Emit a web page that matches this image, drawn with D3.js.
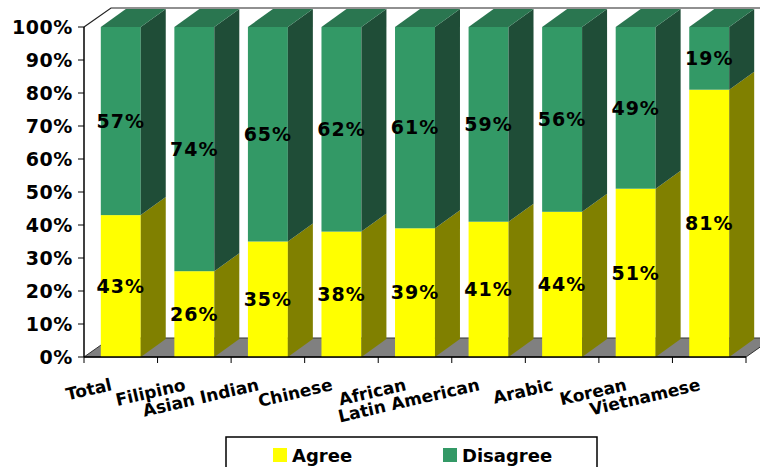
<!DOCTYPE html>
<html>
<head>
<meta charset="utf-8">
<script src="https://cdn.jsdelivr.net/npm/d3@7"></script>
<style>
  body { margin: 0; background: #fff; }
  svg { display: block; font-family: "DejaVu Sans", Verdana, sans-serif; font-weight: bold; }
</style>
</head>
<body>
<svg id="chart" width="760" height="467"></svg>
<script>
// data
const categories = ["Total", "Filipino", "Asian Indian", "Chinese", "African",
  "Latin American", "Arabic", "Korean", "Vietnamese"];
const agree = [43, 26, 35, 38, 39, 41, 44, 51, 81];
const disagree = [57, 74, 65, 62, 61, 59, 56, 49, 19];
const yTicks = [0, 10, 20, 30, 40, 50, 60, 70, 80, 90, 100];

const series = [
  { name: "Agree", values: agree, front: "#ffff00", side: "#808000", top: "#cccc00" },
  { name: "Disagree", values: disagree, front: "#339966", side: "#1f4d37", top: "#2a7650" }
];

const svg = d3.select("#chart");

// depth offsets for the fake 3d
const wallDx = 27, wallDy = -19;
const barDx = 25, barDy = -18;

const x = d3.scaleBand().domain(categories).range([84, 746]).padding(0);
const y = d3.scaleLinear().domain([0, 100]).range([357, 27]);
const barW = x.bandwidth() * 0.543;

// back wall outline + floor
const g = svg.append("g");
g.append("polygon")
  .attr("points", [[x.range()[0], y(0)], [x.range()[0] + wallDx, y(0) + wallDy],
    [x.range()[1] + wallDx, y(0) + wallDy], [x.range()[1], y(0)]].join(" "))
  .attr("fill", "#808080")
  .attr("stroke", "#333")
  .attr("stroke-width", 1);

g.append("polyline")
  .attr("points", [[84, y(100)], [84 + wallDx, y(100) + wallDy],
    [x.range()[1] + wallDx, y(100) + wallDy], [x.range()[1] + wallDx, y(0) + wallDy]].join(" "))
  .attr("fill", "none")
  .attr("stroke", "#222")
  .attr("stroke-width", 1.2);

// stacked bars
const stacked = categories.map((c, i) => {
  let base = 0;
  return series.map(s => {
    const seg = { cat: c, s: s, y0: base, y1: base + s.values[i], v: s.values[i] };
    base += s.values[i];
    return seg;
  });
});

const bars = g.selectAll(".bar").data(stacked).join("g").attr("class", "bar");

bars.each(function (segs) {
  const bg = d3.select(this);
  segs.forEach((d, k) => {
    const xl = x(d.cat) + (x.bandwidth() - barW) / 2;
    const xr = xl + barW;
    const yt = y(d.y1), yb = y(d.y0);
    bg.append("rect")
      .attr("x", xl).attr("y", yt)
      .attr("width", barW).attr("height", yb - yt)
      .attr("fill", d.s.front);
    bg.append("polygon")
      .attr("points", [[xr, yt], [xr + barDx, yt + barDy], [xr + barDx, yb + barDy], [xr, yb]].join(" "))
      .attr("fill", d.s.side);
    if (k === segs.length - 1) {
      bg.append("polygon")
        .attr("points", [[xl, yt], [xl + barDx, yt + barDy], [xr + barDx, yt + barDy], [xr, yt]].join(" "))
        .attr("fill", d.s.top);
    }
  });
});

// value labels
bars.selectAll("text")
  .data(d => d)
  .join("text")
  .attr("x", d => x(d.cat) + x.bandwidth() / 2)
  .attr("y", d => (y(d.y0) + y(d.y1)) / 2)
  .attr("dy", "0.36em")
  .attr("text-anchor", "middle")
  .attr("font-size", 19)
  .attr("letter-spacing", 1)
  .attr("fill", "#000")
  .text(d => d.v + "%");

// y axis
const yAxis = g.append("g");
yAxis.append("line")
  .attr("x1", 84).attr("x2", 84).attr("y1", y(0)).attr("y2", y(100))
  .attr("stroke", "#000").attr("stroke-width", 1.5);
yAxis.selectAll(".yt").data(yTicks).join("line")
  .attr("x1", 78).attr("x2", 84)
  .attr("y1", d => y(d)).attr("y2", d => y(d))
  .attr("stroke", "#000");
yAxis.selectAll("text").data(yTicks).join("text")
  .attr("x", 73)
  .attr("y", d => y(d))
  .attr("dy", "0.36em")
  .attr("text-anchor", "end")
  .attr("font-size", 19)
  .attr("letter-spacing", 0.6)
  .text(d => d + "%");

// x axis
const xAxis = g.append("g");
xAxis.append("line")
  .attr("x1", 84).attr("x2", 746).attr("y1", y(0)).attr("y2", y(0))
  .attr("stroke", "#000").attr("stroke-width", 1.5);
const edges = categories.map(c => x(c)).concat([x.range()[1]]);
xAxis.selectAll(".xt").data(edges).join("line")
  .attr("x1", d => d).attr("x2", d => d)
  .attr("y1", y(0)).attr("y2", y(0) + 6)
  .attr("stroke", "#000");
xAxis.selectAll("text").data(categories).join("text")
  .attr("transform", d => `translate(${x(d) + x.bandwidth() / 2 - 8},390) rotate(-13)`)
  .attr("text-anchor", "end")
  .attr("font-size", 17)
  .text(d => d);

// legend
const lg = svg.append("g");
lg.append("rect")
  .attr("x", 226).attr("y", 437).attr("width", 371).attr("height", 40)
  .attr("fill", "#fff").attr("stroke", "#000").attr("stroke-width", 1.5);
const legX = [273, 443];
const items = lg.selectAll(".li").data(series).join("g")
  .attr("transform", (d, i) => `translate(${legX[i]},448)`);
items.append("rect").attr("width", 14).attr("height", 14).attr("fill", d => d.front);
items.append("text")
  .attr("x", 19).attr("y", 14)
  .attr("font-size", 18)
  .text(d => d.name);
</script>
</body>
</html>
